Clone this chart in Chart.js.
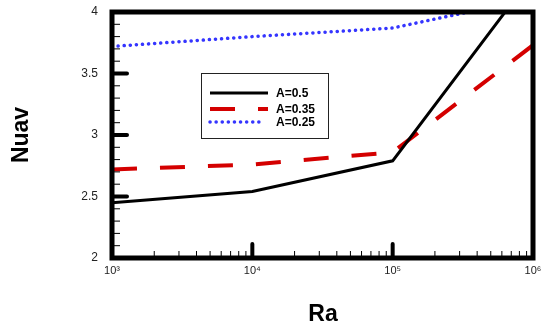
<!DOCTYPE html>
<html><head><meta charset="utf-8">
<script src="https://cdn.jsdelivr.net/npm/chart.js@4/dist/chart.umd.min.js"></script>
<style>html,body{margin:0;padding:0;background:#fff;}#wrap{width:546px;height:331px;}</style>
</head><body><div id="wrap"><canvas id="c" width="546" height="331"></canvas></div>
<script>
const raValues = [1e3, 1e4, 1e5, 1e6];
const nuA05 = [2.45, 2.54, 2.79, 4.30];
const nuA035 = [2.72, 2.76, 2.86, 3.73];
const nuA025 = [3.72, 3.80, 3.87, 4.11];
const seriesLabels = ['A=0.5', 'A=0.35', 'A=0.25'];
const xTickValues = [1e3, 1e4, 1e5, 1e6];
const xTickLabels = ['10\u00B3', '10\u2074', '10\u2075', '10\u2076'];
const yTickValues = [2, 2.5, 3, 3.5, 4];
const yTickLabels = ['2', '2.5', '3', '3.5', '4'];

const FONT = '"Liberation Sans", Arial, sans-serif';
const pts = arr => raValues.map((x, i) => ({x: x, y: arr[i]}));

const deco = {
  id: 'deco',
  afterDraw(chart) {
    const ctx = chart.ctx, a = chart.chartArea;
    const xs = chart.scales.x, ys = chart.scales.y;
    ctx.save();
    ctx.strokeStyle = '#000';
    for (let k = 0; k <= 20; k++) {
      const v = 2 + k * 0.1;
      const py = ys.getPixelForValue(v);
      const major = k % 5 === 0;
      ctx.beginPath();
      ctx.lineCap = major ? 'round' : 'butt';
      ctx.lineWidth = major ? 4 : 1;
      ctx.moveTo(a.left, py);
      ctx.lineTo(a.left + (major ? 15 : 8), py);
      ctx.stroke();
    }
    for (let d = 3; d < 6; d++) {
      for (let m = 2; m <= 10; m++) {
        const v = m * Math.pow(10, d);
        const px = xs.getPixelForValue(v);
        const major = m === 10;
        ctx.beginPath();
        ctx.lineCap = major ? 'round' : 'butt';
        ctx.lineWidth = major ? 4 : 1;
        ctx.moveTo(px, a.bottom);
        ctx.lineTo(px, a.bottom - (major ? 14 : 7));
        ctx.stroke();
      }
    }
    ctx.lineCap = 'butt';
    ctx.lineJoin = 'miter';
    ctx.lineWidth = 5;
    ctx.strokeRect(a.left, a.top, a.right - a.left, a.bottom - a.top);
    const bx = 201, by = 73, bw = 127, bh = 65;
    ctx.fillStyle = '#fff';
    ctx.fillRect(bx, by, bw, bh);
    ctx.lineWidth = 1;
    ctx.strokeStyle = '#222';
    ctx.strokeRect(bx + 0.5, by + 0.5, bw, bh);
    const rows = [93, 109, 122];
    chart.data.datasets.forEach((ds, i) => {
      ctx.save();
      ctx.strokeStyle = ds.borderColor;
      ctx.lineWidth = ds.borderWidth;
      ctx.lineCap = ds.borderCapStyle || 'butt';
      ctx.setLineDash(ds.borderDash || []);
      ctx.beginPath();
      ctx.moveTo(210, rows[i]);
      ctx.lineTo(i === 2 ? 264 : 268, rows[i]);
      ctx.stroke();
      ctx.restore();
      ctx.fillStyle = '#000';
      ctx.font = 'bold 12px ' + FONT;
      ctx.textBaseline = 'middle';
      ctx.textAlign = 'left';
      ctx.fillText(ds.label, 276, rows[i] + 0.5);
    });
    ctx.fillStyle = '#000';
    ctx.font = 'bold 23px ' + FONT;
    ctx.textAlign = 'center';
    ctx.textBaseline = 'middle';
    ctx.fillText('Ra', 323, 315);
    ctx.translate(22, 135);
    ctx.rotate(-Math.PI / 2);
    ctx.fillText('Nuav', 0, 0);
    ctx.restore();
  }
};

new Chart(document.getElementById('c'), {
  type: 'line',
  data: {
    datasets: [
      {label: seriesLabels[0], data: pts(nuA05), borderColor: '#000', borderWidth: 3, pointRadius: 0, fill: false, clip: 0},
      {label: seriesLabels[1], data: pts(nuA035), borderColor: '#d40000', borderWidth: 4, borderDash: [25, 23], pointRadius: 0, fill: false, clip: 0},
      {label: seriesLabels[2], data: pts(nuA025), borderColor: '#3535ff', borderWidth: 3.5, borderDash: [0.1, 6], borderCapStyle: 'round', pointRadius: 0, fill: false, clip: 0}
    ]
  },
  options: {
    responsive: false,
    animation: false,
    devicePixelRatio: 1,
    layout: {padding: {left: 0, right: 13, top: 12, bottom: 0}},
    plugins: {legend: {display: false}, tooltip: {enabled: false}},
    scales: {
      x: {
        type: 'logarithmic', min: 1e3, max: 1e6,
        grid: {display: true, color: 'rgba(0,0,0,0)', drawOnChartArea: false, drawTicks: true, tickLength: 6},
        border: {display: false},
        afterBuildTicks(s) { s.ticks = xTickValues.map(v => ({value: v})); },
        afterFit(s) { s.height = 73; },
        ticks: {
          autoSkip: false, maxRotation: 0, padding: 0, color: '#222',
          font: {family: FONT, size: 11},
          callback: (v) => { const i = xTickValues.indexOf(v); return i >= 0 ? xTickLabels[i] : ''; }
        }
      },
      y: {
        type: 'linear', min: 2, max: 4,
        grid: {display: true, color: 'rgba(0,0,0,0)', drawOnChartArea: false, drawTicks: true, tickLength: 14},
        border: {display: false},
        afterBuildTicks(s) { s.ticks = yTickValues.map(v => ({value: v})); },
        afterFit(s) { s.width = 112; },
        ticks: {
          padding: 0, color: '#222',
          font: {family: FONT, size: 12},
          callback: (v) => { const i = yTickValues.indexOf(v); return i >= 0 ? yTickLabels[i] : ''; }
        }
      }
    }
  },
  plugins: [deco]
});
</script></body></html>
